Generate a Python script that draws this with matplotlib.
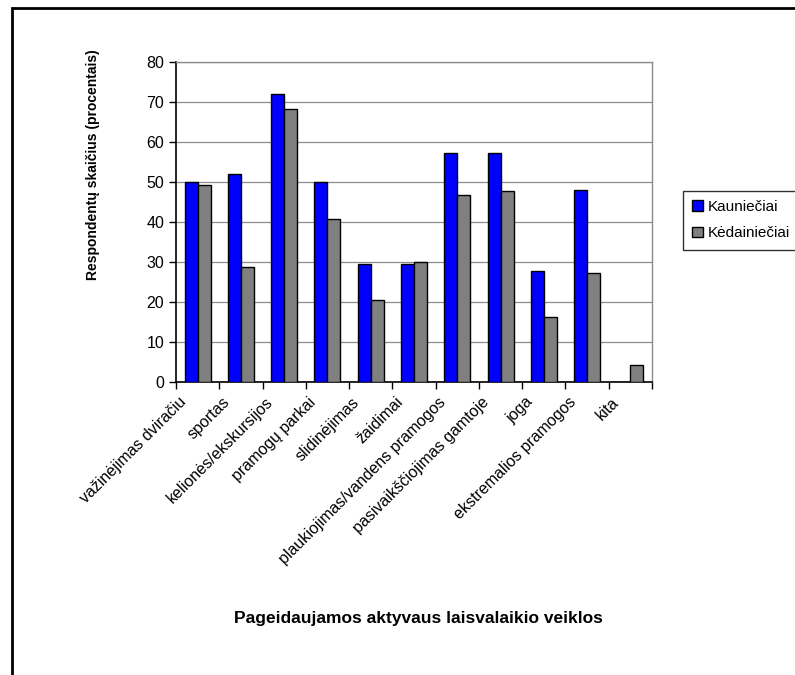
import numpy as np
import matplotlib
matplotlib.use("Agg")
import matplotlib.pyplot as plt
from matplotlib.patches import Rectangle
from matplotlib.transforms import ScaledTranslation

plt.rcParams["font.family"] = ["Liberation Sans", "DejaVu Sans"]

categories = [
    "važinėjimas dviračiu",
    "sportas",
    "kelionės/ekskursijos",
    "pramogų parkai",
    "slidinėjimas",
    "žaidimai",
    "plaukiojimas/vandens pramogos",
    "pasivaikščiojimas gamtoje",
    "joga",
    "ekstremalios pramogos",
    "kita",
]
kaunieciai = [50, 52, 72, 50, 29.5, 29.5, 57.2, 57.2, 27.7, 48.1, 0]
kedainieciai = [49.3, 28.7, 68.2, 40.8, 20.5, 29.9, 46.7, 47.8, 16.3, 27.3, 4.2]
series_names = ["Kauniečiai", "Kėdainiečiai"]

W, H = 795, 675
fig = plt.figure(figsize=(W / 100, H / 100), dpi=100)
ax = fig.add_axes([176 / W, 1 - 382 / H, 476 / W, 320 / H])

x = np.arange(len(categories))
bw = 0.3
b1 = ax.bar(x - bw / 2, kaunieciai, bw, color="#0000ff", edgecolor="black",
            linewidth=1.0, label=series_names[0], zorder=3)
b2 = ax.bar(x + bw / 2, kedainieciai, bw, color="#808080", edgecolor="black",
            linewidth=1.0, label=series_names[1], zorder=3)

ax.set_xlim(-0.5, len(categories) - 0.5)
ax.set_ylim(0, 80)
ax.set_yticks(range(0, 81, 10))
ax.tick_params(axis="y", labelsize=11.5, length=5, width=1, direction="out")

# ticks between the groups, labels centered under each group
ax.set_xticks(np.arange(len(categories) + 1) - 0.5)
ax.set_xticklabels([])
ax.tick_params(axis="x", which="major", length=5, width=1, direction="out")
ax.set_xticks(x, minor=True)
ax.set_xticklabels(categories, minor=True, rotation=45, ha="right", va="top",
                   rotation_mode="anchor", fontsize=11.5)
ax.tick_params(axis="x", which="minor", length=0, pad=6)
shift = ScaledTranslation(-0.19, -0.04, fig.dpi_scale_trans)
for lab in ax.get_xticklabels(minor=True):
    lab.set_transform(lab.get_transform() + shift)

ax.yaxis.grid(True, color="#8c8c8c", linewidth=0.9, zorder=0)
ax.set_axisbelow(True)
for side in ["left", "bottom"]:
    ax.spines[side].set_color("black")
    ax.spines[side].set_linewidth(1.2)
for side in ["top", "right"]:
    ax.spines[side].set_color("#8c8c8c")
    ax.spines[side].set_linewidth(1.0)

fig.text(93 / W, 1 - 165 / H, "Respondentų skaičius (procentais)",
         rotation=90, ha="center", va="center", fontsize=10, fontweight="bold")
fig.text(418 / W, 1 - 619 / H, "Pageidaujamos aktyvaus laisvalaikio veiklos",
         ha="center", va="center", fontsize=12.5, fontweight="bold")

leg = fig.legend(handles=[b1, b2], loc="upper left",
                 bbox_to_anchor=(683 / W, 1 - 191 / H), fontsize=11,
                 frameon=True, fancybox=False, handlelength=0.7,
                 handleheight=0.7, handletextpad=0.3, borderpad=0.6,
                 labelspacing=0.8, borderaxespad=0)
leg.get_frame().set_edgecolor("black")
leg.get_frame().set_linewidth(1.0)

# outer chart border (runs off the right and bottom edges)
fig.patches.append(Rectangle((12 / W, -0.1), 1.2, 1.1 - 8 / H, fill=False,
                             edgecolor="black", linewidth=2,
                             transform=fig.transFigure))

fig.savefig("out.png", dpi=100)
